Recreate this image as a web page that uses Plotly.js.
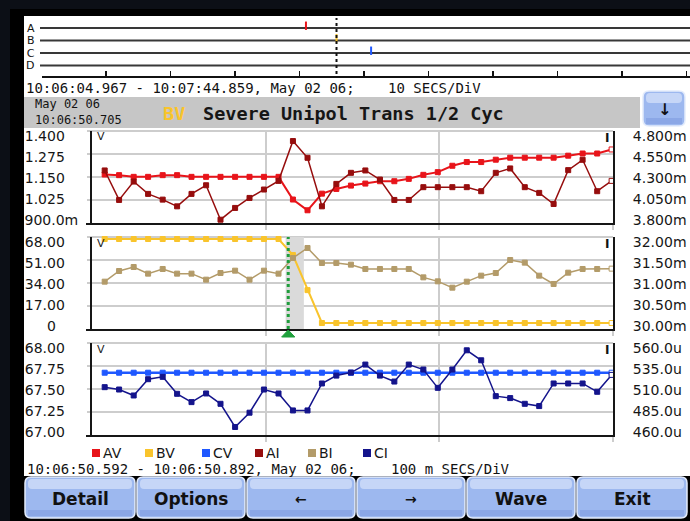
<!DOCTYPE html>
<html><head><meta charset="utf-8">
<script src="https://cdn.plot.ly/plotly-3.0.1.min.js"></script>
<style>html,body{margin:0;padding:0;background:#0c0f16;}#chart{width:690px;height:521px;}</style>
</head><body><div id="chart"></div>
<script>
// ---------------- DATA ----------------
// sample times, ms after 10:06:50.592 (half-cycle samples)
const sampleMs = [7.3, 15.6, 24.0, 32.3, 40.7, 49.0, 57.3, 65.7, 74.0, 82.4, 90.7, 99.0,
  107.4, 115.7, 124.1, 132.4, 140.7, 149.1, 157.4, 165.8, 174.1, 182.4, 190.8, 199.1,
  207.5, 215.8, 224.1, 232.5, 240.8, 249.2, 257.5, 265.8, 274.2, 282.5, 290.9, 299.2];
// voltages (V)
const AV = [1.153, 1.149, 1.139, 1.139, 1.149, 1.149, 1.139, 1.139, 1.139, 1.139, 1.139, 1.139,
  1.139, 1.004, 0.940, 1.039, 1.067, 1.087, 1.099, 1.113, 1.113, 1.127, 1.151, 1.167,
  1.205, 1.227, 1.227, 1.241, 1.253, 1.253, 1.253, 1.253, 1.265, 1.278, 1.278, 1.302];
const BV = [68, 68, 68, 68, 68, 68, 68, 68, 68, 68, 68, 68,
  68, 55.0, 26.6, 0, 0, 0, 0, 0, 0, 0, 0, 0,
  0, 0, 0, 0, 0, 0, 0, 0, 0, 0, 0, 0];
const CV = [67.67, 67.67, 67.67, 67.67, 67.67, 67.67, 67.67, 67.67, 67.67, 67.67, 67.67, 67.67,
  67.67, 67.67, 67.67, 67.67, 67.67, 67.67, 67.67, 67.67, 67.67, 67.67, 67.67, 67.67,
  67.67, 67.67, 67.67, 67.67, 67.67, 67.67, 67.67, 67.67, 67.67, 67.67, 67.67, 67.67];
// currents: AI, BI in mA ; CI in uA
const AI = [4.354, 4.003, 4.222, 4.075, 4.007, 3.927, 4.075, 4.178, 3.768, 3.908, 4.027, 4.127,
  4.230, 4.704, 4.505, 3.927, 4.194, 4.326, 4.354, 4.246, 4.003, 4.003, 4.155, 4.155,
  4.155, 4.155, 4.107, 4.326, 4.378, 4.155, 4.087, 3.955, 4.358, 4.481, 4.107, 4.230];
const BI = [30.984, 31.238, 31.333, 31.175, 31.286, 31.175, 31.175, 31.032, 31.190, 31.246, 31.032, 31.246,
  31.175, 31.548, 31.786, 31.429, 31.429, 31.389, 31.286, 31.286, 31.286, 31.286, 31.087, 30.992,
  30.841, 30.984, 31.127, 31.190, 31.500, 31.437, 31.127, 30.929, 31.198, 31.286, 31.286, 31.294];
const CI = [509.8, 507.0, 499.9, 519.3, 522.1, 501.9, 492.0, 502.3, 490.0, 462.4, 479.4, 507.0,
  502.3, 482.1, 482.1, 514.2, 523.6, 527.2, 536.7, 523.6, 516.5, 536.7, 530.8, 509.0,
  530.8, 553.7, 541.8, 499.1, 496.8, 490.0, 487.3, 514.2, 514.2, 514.2, 504.3, 524.4];

// tick values / labels
const p1LeftVals = [0.9, 1.025, 1.15, 1.275, 1.4];
const p1LeftText = ['900.0m', '1.025', '1.150', '1.275', '1.400'];
const p1RightVals = [3.8, 4.05, 4.3, 4.55, 4.8];
const p1RightText = ['3.800m', '4.050m', '4.300m', '4.550m', '4.800m'];
const p2LeftVals = [0, 17, 34, 51, 68];
const p2LeftText = ['0', '17.00', '34.00', '51.00', '68.00'];
const p2RightVals = [30, 30.5, 31, 31.5, 32];
const p2RightText = ['30.00m', '30.50m', '31.00m', '31.50m', '32.00m'];
const p3LeftVals = [67, 67.25, 67.5, 67.75, 68];
const p3LeftText = ['67.00', '67.25', '67.50', '67.75', '68.00'];
const p3RightVals = [460, 485, 510, 535, 560];
const p3RightText = ['460.0u', '485.0u', '510.0u', '535.0u', '560.0u'];

// event timeline (seconds after 10:06:04.967)
const channels = ['A', 'B', 'C', 'D'];
const eventChannel = ['A', 'B', 'C'];
const eventSec = [41.0, 45.74, 51.1];
const eventSeries = ['AV', 'BV', 'CV'];
const triggerSec = 45.738;      // 10:06:50.705
const triggerMs = 113;          // within detail window
const eventWindowMs = [111.5, 122.0];

const legendOrder = ['AV', 'BV', 'CV', 'AI', 'BI', 'CI'];
const buttonLabels = ['Detail', 'Options', '\u2190', '\u2192', 'Wave', 'Exit'];

// ---------------- STYLE / LAYOUT ----------------
const colors = {AV:'#e8141a', BV:'#f9c42c', CV:'#1f58ff', AI:'#960d0d', BI:'#b39b69', CI:'#14148c'};
const W = 690, H = 521;
const px = x => x / W, py = y => 1 - y / H;
const panels = [{top:131, bot:223}, {top:237, bot:329}, {top:343, bot:435}];
function padRange(lo, hi){ const s = (hi - lo) / 84; return [lo - 6 * s, hi + 2 * s]; }
const NB = '\u00a0';
function leftPad(texts){ return texts.map(t => t.length >= 6 ? t : (t.length === 1 ? t + NB.repeat(5) : t + NB.repeat(3))); }
const tickFont = {family:'DejaVu Sans', size:14, color:'#161616'};
const dark = '#161616', grid = '#cdcdcd';

function series(x, y, name, width, xa, ya){
  const c = colors[name], n = y.length;
  return {type:'scatter', mode:'lines+markers', x:x, y:y, name:name, xaxis:xa, yaxis:ya,
    showlegend:false, hoverinfo:'skip', cliponaxis:false,
    line:{color:c, width:width},
    marker:{symbol:'square', size:5, color:y.map((v, i) => i === n - 1 ? '#ffffff' : c), line:{color:c, width:1}}};
}
const levelOf = {A:4, B:3, C:2, D:1};
const traces = [
  series(sampleMs, AV, 'AV', 2, 'x', 'y'),
  series(sampleMs, AI, 'AI', 1.5, 'x', 'y2'),
  series(sampleMs, BV, 'BV', 2, 'x2', 'y3'),
  series(sampleMs, BI, 'BI', 1.5, 'x2', 'y4'),
  series(sampleMs, CV, 'CV', 2.5, 'x3', 'y5'),
  series(sampleMs, CI, 'CI', 1.5, 'x3', 'y6'),
  {type:'scatter', mode:'markers', x:eventSec, y:eventChannel.map(c => levelOf[c] + 0.18),
   xaxis:'x4', yaxis:'y7', showlegend:false, hoverinfo:'skip', cliponaxis:false,
   marker:{symbol:'line-ns', size:6, line:{color:eventSeries.map(s => colors[s]), width:2}}}
];

function xAxis(anchor){
  return {domain:[px(92), px(613)], anchor:anchor, range:[0, 300], tickvals:[100, 200, 300],
    ticks:'outside', ticklen:5, tickwidth:2, tickcolor:grid, showticklabels:false,
    showgrid:true, gridcolor:grid, gridwidth:2, showline:true, linecolor:dark, linewidth:2,
    zeroline:false, fixedrange:true};
}
function yAxis(p, lo, hi, vals, texts, side, anchor, overlay){
  const a = {domain:[py(p.bot), py(p.top)], range:padRange(lo, hi), tickvals:vals, ticktext:texts,
    side:side, anchor:anchor, showgrid:false, zeroline:false, showline:true, linecolor:dark,
    linewidth:2, ticks:'', ticklabelstandoff:(side === 'right' ? 15 : 9), ticklabelshift:3,
    tickfont:tickFont, fixedrange:true};
  if (overlay) a.overlaying = overlay;
  return a;
}

const shapes = [];
const ann = [];
// bezel + screen
shapes.push({type:'rect', xref:'paper', yref:'paper', x0:px(10), x1:1, y0:0, y1:py(9), fillcolor:'#000000', line:{width:0}, layer:'below'});
shapes.push({type:'rect', xref:'paper', yref:'paper', x0:px(24), x1:1, y0:py(476), y1:py(16), fillcolor:'#ffffff', line:{width:0}, layer:'below'});
// header band
shapes.push({type:'rect', xref:'paper', yref:'paper', x0:px(24), x1:px(640), y0:py(128), y1:py(97), fillcolor:'#c6c6c6', line:{width:0}, layer:'below'});
// panel grids and frames
panels.forEach(p => {
  for (let k = 0; k < 4; k++) {
    const y = p.top + 23 * k;
    shapes.push({type:'line', xref:'paper', yref:'paper', x0:px(87), x1:px(613), y0:py(y), y1:py(y), line:{color:grid, width:2}, layer:'below'});
  }
  shapes.push({type:'line', xref:'paper', yref:'paper', x0:px(86), x1:px(92), y0:py(p.bot + 1), y1:py(p.bot + 1), line:{color:dark, width:2}, layer:'below'});
  ann.push({xref:'paper', yref:'paper', x:px(95), y:py(p.top + 6), xanchor:'left', yanchor:'middle', text:'V', showarrow:false, font:{family:'DejaVu Sans', size:11, color:'#222'}});
  ann.push({xref:'paper', yref:'paper', x:px(611), y:py(p.top + 7), xanchor:'right', yanchor:'middle', text:'<b>I</b>', showarrow:false, font:{family:'DejaVu Sans', size:12, color:'#111'}});
});
// event window in detail panel 2
shapes.push({type:'rect', xref:'x2', yref:'paper', x0:eventWindowMs[0], x1:eventWindowMs[1], y0:py(329), y1:py(237), fillcolor:'#dadada', line:{width:0}, layer:'between'});
shapes.push({type:'line', xref:'x2', yref:'paper', x0:triggerMs, x1:triggerMs, y0:py(329), y1:py(237), line:{color:'#1f9e3c', width:3, dash:'dot'}, layer:'above'});
shapes.push({type:'path', xref:'x2', yref:'paper',
  path:`M${triggerMs - 3.8},${py(337)} L${triggerMs + 3.8},${py(337)} L${triggerMs},${py(330)} Z`,
  fillcolor:'#1fa03c', line:{color:'#1fa03c', width:1}, layer:'above'});
// timeline channel lines & trigger marker
channels.forEach(c => {
  shapes.push({type:'line', xref:'paper', yref:'y7', x0:px(40), x1:1, y0:levelOf[c], y1:levelOf[c], line:{color:'#383838', width:2}, layer:'below'});
});
shapes.push({type:'line', xref:'x4', yref:'paper', x0:triggerSec, x1:triggerSec, y0:py(74), y1:py(18), line:{color:'#111', width:2, dash:'dot'}, layer:'above'});

// rounded rect helper (pixels -> paper)
function rrect(x0, y0, x1, y1, r){
  const P = (x, y) => `${px(x)},${py(y)}`;
  return `M${P(x0 + r, y0)} L${P(x1 - r, y0)} Q${P(x1, y0)} ${P(x1, y0 + r)} L${P(x1, y1 - r)} Q${P(x1, y1)} ${P(x1 - r, y1)} L${P(x0 + r, y1)} Q${P(x0, y1)} ${P(x0, y1 - r)} L${P(x0, y0 + r)} Q${P(x0, y0)} ${P(x0 + r, y0)} Z`;
}
function button(x0, y0, x1, y1, label, fs){
  shapes.push({type:'path', xref:'paper', yref:'paper', path:rrect(x0, y0, x1, y1, 6), fillcolor:'#9db8ef', line:{color:'#e4ecfc', width:1.5}, layer:'below'});
  shapes.push({type:'path', xref:'paper', yref:'paper', path:rrect(x0 + 3, y0 + 2, x1 - 3, y0 + 12, 4), fillcolor:'#c6d6f7', line:{width:0}, layer:'below'});
  shapes.push({type:'rect', xref:'paper', yref:'paper', x0:px(x0 + 3), x1:px(x1 - 3), y0:py(y1 - 2), y1:py(y1 - 8), fillcolor:'#8ba7e6', line:{width:0}, layer:'below'});
  ann.push({xref:'paper', yref:'paper', x:px((x0 + x1) / 2), y:py((y0 + y1) / 2 + 1), xanchor:'center', yanchor:'middle', text:'<b>' + label + '</b>', showarrow:false, font:{family:'DejaVu Sans', size:fs, color:'#111'}});
}
const btnX = [[25, 135], [137, 245], [247, 355], [357, 465], [467, 575], [577, 687]];
buttonLabels.forEach((l, i) => button(btnX[i][0], 477, btnX[i][1], 518, l, (l.length === 1 ? 14 : 17)));
button(643, 91, 685, 126, '\u2193', 16);

// legend (squares + names)
const legX = [92, 145, 202, 255, 308, 363];
legendOrder.forEach((n, i) => {
  shapes.push({type:'rect', xref:'paper', yref:'paper', x0:px(legX[i]), x1:px(legX[i] + 8), y0:py(457), y1:py(449), fillcolor:colors[n], line:{width:0}});
  ann.push({xref:'paper', yref:'paper', x:px(legX[i] + 9), y:py(453), xanchor:'left', yanchor:'middle', text:n, showarrow:false, font:{family:'DejaVu Sans', size:14, color:'#161616'}});
});

// texts
const mono = {family:'DejaVu Sans Mono', size:14, color:'#121212'};
function txt(x, y, t, font, anchor){ ann.push({xref:'paper', yref:'paper', x:px(x), y:py(y), xanchor:anchor || 'left', yanchor:'middle', align:'left', text:t, showarrow:false, font:font}); }
txt(24, 88, '10:06:04.967 - 10:07:44.859, May 02 06;', mono);
txt(386, 88, '10 SECS/DiV', mono);
txt(33, 111.5, 'May 02 06<br>10:06:50.705', {family:'DejaVu Sans Mono', size:12, color:'#121212'});
txt(161, 113, '<b>BV</b>', {family:'DejaVu Sans Mono', size:18.5, color:'#f9c42c'});
txt(201, 113, '<b>Severe Unipol Trans 1/2 Cyc</b>', {family:'DejaVu Sans Mono', size:18.5, color:'#161616'});
txt(25, 469, '10:06:50.592 - 10:06:50.892, May 02 06;', mono);
txt(389, 469, '100 m SECS/DiV', mono);

const layout = {
  width:W, height:H, margin:{l:0, r:0, t:0, b:0}, paper_bgcolor:'#0c0f16', plot_bgcolor:'rgba(0,0,0,0)',
  showlegend:false, font:{family:'DejaVu Sans', color:'#161616'},
  xaxis:xAxis('y'), xaxis2:xAxis('y3'), xaxis3:xAxis('y5'),
  yaxis:yAxis(panels[0], 0.9, 1.4, p1LeftVals, leftPad(p1LeftText), 'left', 'x'),
  yaxis2:yAxis(panels[0], 3.8, 4.8, p1RightVals, p1RightText, 'right', 'x', 'y'),
  yaxis3:yAxis(panels[1], 0, 68, p2LeftVals, leftPad(p2LeftText), 'left', 'x2'),
  yaxis4:yAxis(panels[1], 30, 32, p2RightVals, p2RightText, 'right', 'x2', 'y3'),
  yaxis5:yAxis(panels[2], 67, 68, p3LeftVals, leftPad(p3LeftText), 'left', 'x3'),
  yaxis6:yAxis(panels[2], 460, 560, p3RightVals, p3RightText, 'right', 'x3', 'y5'),
  xaxis4:{domain:[px(41.5), 1], anchor:'y7', range:[0, (690 - 41.5) / 6.45], tick0:0, dtick:10,
    ticks:'inside', ticklen:5, tickwidth:1.5, tickcolor:'#111', showticklabels:false, showgrid:false,
    showline:true, linecolor:'#111', linewidth:2, zeroline:false, fixedrange:true},
  yaxis7:{domain:[py(76), py(18)], anchor:'x4', range:[0.16, 4.8], tickvals:channels.map(c => levelOf[c]), ticktext:channels,
    showgrid:false, zeroline:false, showline:false, ticks:'', ticklabelstandoff:6,
    tickfont:{family:'DejaVu Sans', size:11, color:'#111'}, fixedrange:true},
  shapes:shapes, annotations:ann
};
Plotly.newPlot('chart', traces, layout, {staticPlot:true, displayModeBar:false});
</script></body></html>
